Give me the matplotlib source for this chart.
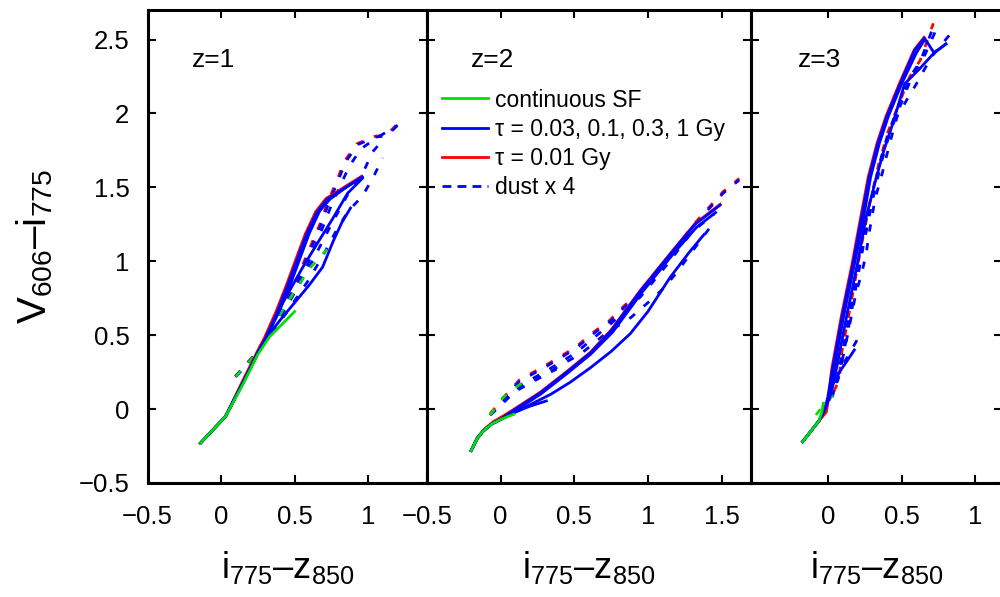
import matplotlib
matplotlib.use("Agg")
import matplotlib.pyplot as plt
from matplotlib.lines import Line2D

plt.rcParams['font.family'] = ['Liberation Sans', 'DejaVu Sans']
plt.rcParams['mathtext.fontset'] = 'custom'
plt.rcParams['mathtext.rm'] = 'Liberation Sans'
plt.rcParams['mathtext.it'] = 'Liberation Sans'
plt.rcParams['mathtext.default'] = 'regular'

# ---------------- data (i775-z850, V606-i775) ----------------
# z = 1
z1_cont = [(-0.14, -0.23), (0.03, -0.05), (0.15, 0.17), (0.25, 0.37), (0.33, 0.49), (0.40, 0.56), (0.50, 0.66)]
z1_cont_dust = [(0.10, 0.22), (0.20, 0.33), (0.33, 0.52), (0.45, 0.72), (0.60, 0.95), (0.72, 1.08)]
z1_t001 = [(-0.14, -0.23), (0.03, -0.05), (0.144, 0.185), (0.244, 0.385), (0.293, 0.478), (0.372, 0.655),
           (0.443, 0.835), (0.513, 1.025), (0.573, 1.185), (0.643, 1.335), (0.714, 1.425), (0.795, 1.475),
           (0.875, 1.525), (0.955, 1.575)]
z1_t001_dust = [(0.095, 0.22), (0.265, 0.41), (0.395, 0.65), (0.513, 0.855), (0.563, 0.995), (0.618, 1.125),
                (0.678, 1.265), (0.723, 1.395), (0.783, 1.535), (0.838, 1.675), (0.923, 1.795), (1.045, 1.845),
                (1.125, 1.855), (1.195, 1.925)]
z1_tau = [
    [(-0.14, -0.23), (0.03, -0.05), (0.15, 0.18), (0.25, 0.38), (0.30, 0.47), (0.38, 0.65), (0.45, 0.83), (0.52, 1.02),
     (0.58, 1.18), (0.65, 1.33), (0.72, 1.42), (0.80, 1.47), (0.88, 1.52), (0.96, 1.57)],
    [(-0.14, -0.23), (0.03, -0.05), (0.15, 0.18), (0.25, 0.38), (0.30, 0.47), (0.39, 0.65), (0.47, 0.84), (0.54, 1.03),
     (0.60, 1.19), (0.67, 1.34), (0.74, 1.42), (0.85, 1.50), (0.96, 1.57)],
    [(-0.14, -0.23), (0.03, -0.05), (0.15, 0.18), (0.25, 0.38), (0.30, 0.47), (0.42, 0.72), (0.55, 0.95), (0.66, 1.13),
     (0.76, 1.29), (0.86, 1.46), (0.96, 1.56)],
    [(-0.14, -0.23), (0.03, -0.05), (0.15, 0.18), (0.25, 0.38), (0.30, 0.47), (0.40, 0.60), (0.50, 0.72), (0.60, 0.84),
     (0.69, 0.96), (0.76, 1.13), (0.82, 1.26), (0.88, 1.36)],
]
z1_tau_dust = [
    [(0.10, 0.22), (0.27, 0.41), (0.40, 0.65), (0.52, 0.85), (0.57, 0.99), (0.625, 1.12), (0.685, 1.26), (0.73, 1.39),
     (0.79, 1.53), (0.845, 1.67), (0.93, 1.79), (1.05, 1.84), (1.13, 1.85), (1.20, 1.92)],
    [(0.10, 0.22), (0.27, 0.41), (0.41, 0.64), (0.53, 0.84), (0.59, 0.98), (0.64, 1.11), (0.70, 1.25), (0.75, 1.38),
     (0.81, 1.51), (0.87, 1.64), (0.95, 1.76), (1.05, 1.83), (1.20, 1.92)],
    [(0.10, 0.22), (0.27, 0.41), (0.45, 0.70), (0.62, 1.00), (0.75, 1.25), (0.86, 1.45), (0.97, 1.61), (1.03, 1.74),
     (1.10, 1.82)],
    [(0.10, 0.22), (0.27, 0.41), (0.45, 0.66), (0.60, 0.88), (0.71, 1.07), (0.79, 1.22), (0.865, 1.34), (0.96, 1.44),
     (1.03, 1.56), (1.10, 1.70)],
]

# z = 2
z2_cont = [(-0.20, -0.28), (-0.16, -0.20), (-0.12, -0.15), (-0.06, -0.10), (0.00, -0.07), (0.09, -0.035)]
z2_cont_dust = [(-0.07, -0.04), (0.00, 0.06), (0.05, 0.11), (0.15, 0.18)]
z2_t001 = [(-0.20, -0.28), (-0.16, -0.195), (-0.11, -0.135), (-0.05, -0.085), (0.02, -0.045), (0.10, 0.005),
           (0.27, 0.115), (0.45, 0.255), (0.61, 0.385), (0.75, 0.535), (0.95, 0.805), (1.17, 1.075), (1.32, 1.255),
           (1.49, 1.385)]
z2_t001_dust = [(-0.07, -0.03), (0.02, 0.08), (0.13, 0.20), (0.26, 0.27), (0.38, 0.34), (0.51, 0.42), (0.63, 0.52),
                (0.74, 0.60), (0.84, 0.70), (0.95, 0.79), (1.05, 0.92), (1.14, 1.03), (1.32, 1.26), (1.41, 1.36),
                (1.51, 1.47), (1.62, 1.56)]
z2_tau = [
    [(-0.20, -0.28), (-0.16, -0.20), (-0.12, -0.15), (-0.06, -0.10), (0.00, -0.07), (0.10, -0.02), (0.20, 0.02),
     (0.31, 0.055)],
    [(-0.20, -0.28), (-0.16, -0.20), (-0.12, -0.15), (-0.06, -0.10), (0.00, -0.07), (0.10, 0.00), (0.27, 0.11),
     (0.45, 0.25), (0.61, 0.38), (0.75, 0.53), (0.95, 0.80), (1.17, 1.07), (1.32, 1.25), (1.49, 1.38)],
    [(-0.20, -0.28), (-0.16, -0.20), (-0.12, -0.15), (-0.06, -0.10), (0.00, -0.07), (0.10, -0.01), (0.27, 0.10),
     (0.45, 0.24), (0.61, 0.37), (0.76, 0.52), (0.96, 0.79), (1.18, 1.06), (1.33, 1.23), (1.46, 1.33)],
    [(-0.20, -0.28), (-0.16, -0.20), (-0.12, -0.15), (-0.06, -0.10), (0.00, -0.07), (0.10, -0.02), (0.20, 0.03),
     (0.34, 0.10), (0.47, 0.18), (0.61, 0.28), (0.75, 0.39), (0.88, 0.51), (1.00, 0.66), (1.15, 0.89), (1.28, 1.06),
     (1.38, 1.18)],
]
z2_tau_dust = [
    [(-0.07, -0.04), (0.08, 0.12), (0.25, 0.21), (0.38, 0.27)],
    [(-0.07, -0.04), (0.02, 0.07), (0.13, 0.19), (0.26, 0.26), (0.38, 0.33), (0.51, 0.41), (0.63, 0.51), (0.74, 0.59),
     (0.84, 0.69), (0.95, 0.78), (1.05, 0.91), (1.14, 1.02), (1.32, 1.25), (1.41, 1.35), (1.51, 1.46), (1.62, 1.55)],
    [(-0.07, -0.04), (0.13, 0.16), (0.26, 0.23), (0.38, 0.30), (0.51, 0.38), (0.63, 0.48), (0.74, 0.57), (0.84, 0.66),
     (0.95, 0.76), (1.05, 0.88), (1.14, 0.99), (1.30, 1.20), (1.45, 1.32)],
    [(-0.07, -0.04), (0.10, 0.12), (0.30, 0.23), (0.41, 0.30), (0.54, 0.37), (0.70, 0.50), (0.885, 0.62), (1.00, 0.72),
     (1.11, 0.82), (1.20, 0.93), (1.37, 1.16), (1.46, 1.28)],
]

# z = 3
z3_cont = [(-0.17, -0.22), (-0.06, -0.08), (-0.04, -0.02), (-0.03, 0.04)]
z3_cont_dust = [(-0.08, -0.04), (-0.05, 0.00), (0.00, 0.06), (0.05, 0.11)]
z3_t001 = [(-0.17, -0.22), (-0.06, -0.08), (-0.01, -0.02), (0.005, 0.07), (0.025, 0.26), (0.094, 0.64),
           (0.164, 0.98), (0.214, 1.25), (0.274, 1.57), (0.334, 1.80), (0.394, 1.98), (0.484, 2.20), (0.585, 2.43),
           (0.652, 2.515)]
z3_t001_dust = [(0.04, 0.12), (0.08, 0.20), (0.086, 0.34), (0.126, 0.55), (0.176, 0.82), (0.226, 1.10),
                (0.286, 1.40), (0.346, 1.66), (0.406, 1.87), (0.476, 2.05), (0.556, 2.25), (0.626, 2.36),
                (0.715, 2.61)]
z3_tau = [
    [(-0.17, -0.22), (-0.06, -0.08), (-0.02, 0.00), (0.00, 0.08), (0.03, 0.26), (0.10, 0.64), (0.17, 0.98),
     (0.22, 1.25), (0.28, 1.57), (0.34, 1.80), (0.40, 1.98), (0.49, 2.20), (0.59, 2.43), (0.655, 2.51), (0.72, 2.41),
     (0.80, 2.47)],
    [(-0.17, -0.22), (-0.06, -0.08), (-0.02, 0.00), (0.01, 0.08), (0.04, 0.26), (0.11, 0.64), (0.18, 0.98),
     (0.235, 1.25), (0.29, 1.57), (0.35, 1.80), (0.41, 1.98), (0.50, 2.20), (0.60, 2.41), (0.65, 2.49)],
    [(-0.17, -0.22), (-0.06, -0.08), (-0.02, 0.00), (0.02, 0.10), (0.06, 0.28), (0.13, 0.64), (0.20, 0.98),
     (0.26, 1.30), (0.33, 1.57), (0.38, 1.75), (0.44, 1.93), (0.52, 2.20), (0.62, 2.30), (0.72, 2.41), (0.80, 2.47)],
    [(-0.17, -0.22), (-0.06, -0.08), (-0.02, 0.00), (0.02, 0.12), (0.05, 0.21), (0.12, 0.31), (0.18, 0.40)],
]
z3_tau_dust = [
    [(0.00, 0.06), (0.06, 0.20), (0.09, 0.34), (0.13, 0.55), (0.18, 0.82), (0.23, 1.10), (0.29, 1.40), (0.35, 1.66),
     (0.41, 1.87), (0.48, 2.05), (0.56, 2.25), (0.63, 2.36), (0.72, 2.60)],
    [(0.01, 0.06), (0.07, 0.20), (0.10, 0.34), (0.14, 0.55), (0.19, 0.82), (0.24, 1.10), (0.30, 1.40), (0.36, 1.66),
     (0.42, 1.87), (0.49, 2.05), (0.57, 2.25), (0.65, 2.38), (0.74, 2.58)],
    [(0.03, 0.08), (0.10, 0.34), (0.13, 0.48), (0.16, 0.63), (0.19, 0.78), (0.23, 0.92), (0.26, 1.05), (0.28, 1.19),
     (0.32, 1.42), (0.37, 1.60), (0.42, 1.80), (0.47, 1.98), (0.54, 2.10), (0.60, 2.20), (0.70, 2.38), (0.84, 2.55)],
    [(0.05, 0.20), (0.12, 0.33), (0.20, 0.47)],
]

panel_labels = ["z=1", "z=2", "z=3"]
xlims = [(-0.5, 1.4), (-0.5, 1.7), (-0.52, 1.18)]
xticks = [[-0.5, 0, 0.5, 1], [-0.5, 0, 0.5, 1, 1.5], [0, 0.5, 1]]
yticks = [-0.5, 0, 0.5, 1, 1.5, 2, 2.5]
legend_labels = ["continuous SF", "τ = 0.03, 0.1, 0.3, 1 Gy", "τ = 0.01 Gy", "dust x 4"]

panels = [
    (z1_cont, z1_cont_dust, z1_t001, z1_t001_dust, z1_tau, z1_tau_dust),
    (z2_cont, z2_cont_dust, z2_t001, z2_t001_dust, z2_tau, z2_tau_dust),
    (z3_cont, z3_cont_dust, z3_t001, z3_t001_dust, z3_tau, z3_tau_dust),
]

GREEN = '#00e000'
BLUE = '#0000ff'
RED = '#ff0000'
LW = 2.0
DASH = (2.6, 4.2)
LEG_DASH = (3.2, 2.2)

fig = plt.figure(figsize=(10.0, 5.97), dpi=100)
W, H = 1000.0, 597.0
bottom_px, top_px = 483.0, 10.0
edges = [147.5, 427.0, 751.0, 1002.0]
axes = []
for i in range(3):
    ax = fig.add_axes([edges[i] / W, (H - bottom_px) / H, (edges[i + 1] - edges[i]) / W, (bottom_px - top_px) / H])
    axes.append(ax)


def xy(pts):
    return [p[0] for p in pts], [p[1] for p in pts]


for i, ax in enumerate(axes):
    cont, cont_d, red, red_d, taus, taus_d = panels[i]
    # dashed (dust) tracks
    ax.plot(*xy(red_d), color=RED, lw=LW, dashes=DASH)
    for t in taus_d:
        ax.plot(*xy(t), color=BLUE, lw=LW, dashes=DASH)
    ax.plot(*xy(cont_d), color=GREEN, lw=LW, dashes=DASH)
    # solid tracks
    ax.plot(*xy(red), color=RED, lw=LW)
    for t in taus:
        ax.plot(*xy(t), color=BLUE, lw=LW)
    ax.plot(*xy(cont), color=GREEN, lw=LW)

    ax.set_xlim(*xlims[i])
    ax.set_ylim(-0.5, 2.7)
    ax.set_xticks(xticks[i])
    ax.set_xticklabels([f"{v:g}".replace('-', '\u2212') for v in xticks[i]])
    ax.set_yticks(yticks)
    if i == 0:
        ax.set_yticklabels([f"{v:g}".replace('-', '\u2212') for v in yticks])
    else:
        ax.set_yticklabels([])
    ax.tick_params(direction='in', top=True, right=True, length=6, width=1.5, labelsize=18.5)
    ax.tick_params(axis='y', pad=13)
    ax.tick_params(axis='x', pad=16)
    for s in ax.spines.values():
        s.set_linewidth(2.2)
    ax.text(-0.2, 2.36, panel_labels[i], fontsize=19, ha='left', va='center')
    ax.set_xlabel('i$_{775}$\u2013z$_{850}$', fontsize=26, labelpad=14)

axes[0].set_ylabel('V$_{606}$\u2013i$_{775}$', fontsize=29, labelpad=17)

handles = [
    Line2D([], [], color=GREEN, lw=LW),
    Line2D([], [], color=BLUE, lw=LW),
    Line2D([], [], color=RED, lw=LW),
    Line2D([], [], color=BLUE, lw=LW, dashes=LEG_DASH),
]
axes[1].legend(handles, legend_labels, loc='upper left', bbox_to_anchor=(0.046, 0.834), frameon=False,
               fontsize=16.5, borderpad=0, borderaxespad=0, handlelength=2.0, handletextpad=0.3,
               labelspacing=0.27)

fig.savefig('out.png', dpi=100)
